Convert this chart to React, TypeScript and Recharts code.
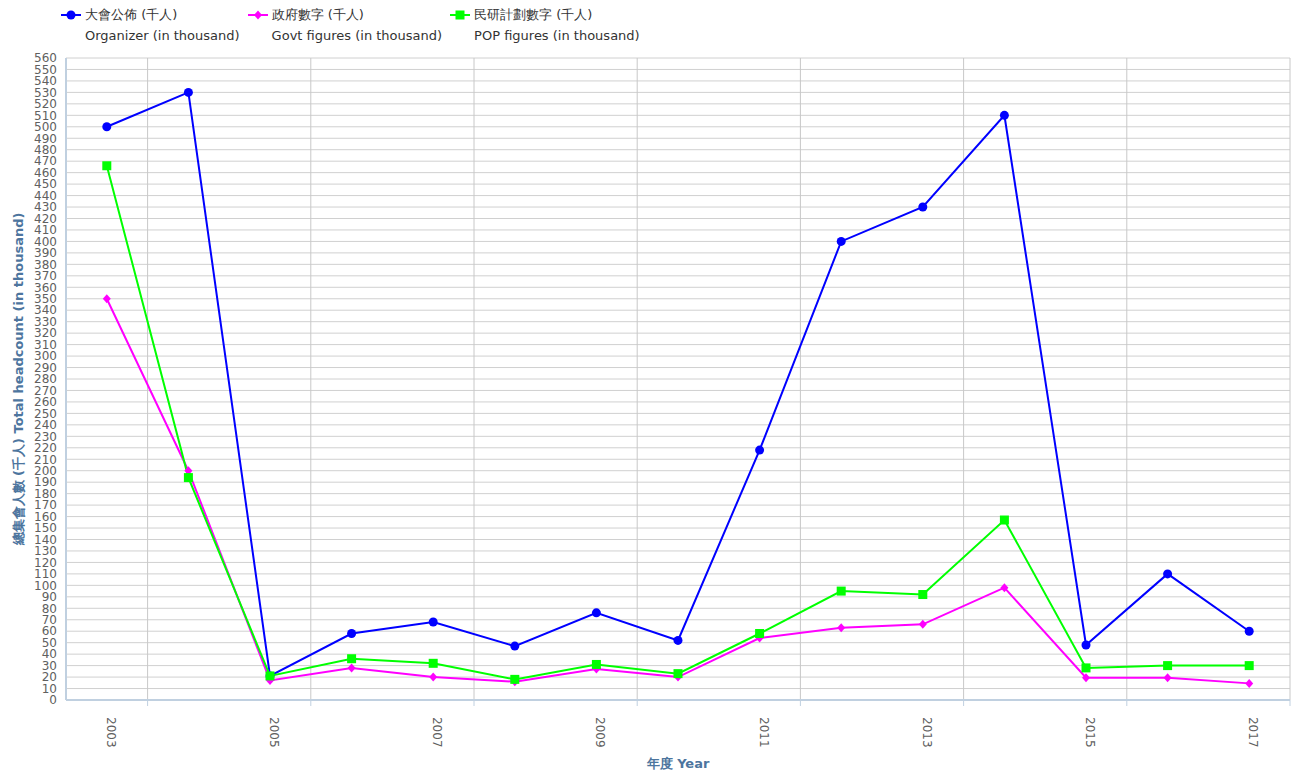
import { LineChart, Line, XAxis, YAxis, CartesianGrid, Label } from "recharts";

// Years on the x axis
const years = [
  "2003", "2004", "2005", "2006", "2007", "2008", "2009", "2010",
  "2011", "2012", "2013", "2014", "2015", "2016", "2017",
];

// Headcounts in thousands
const organizer = [500, 530, 21, 58, 68, 47, 76, 52, 218, 400, 430, 510, 48, 110, 60];
const govt = [350, 200, 17, 28, 20, 16, 27, 20, 54, 63, 66, 98, 19.5, 19.5, 14.5];
const pop = [466, 194, 21, 36, 32, 18, 31, 23, 58, 95, 92, 157, 28, 30, 30];

// y ticks every 10
const yTicks = Array.from({ length: 57 }, (_, i) => i * 10);

const seriesList = [
  { key: "organizer", zh: "大會公佈 (千人)", en: "Organizer (in thousand)", color: "#0000ff", shape: "circle" },
  { key: "govt", zh: "政府數字 (千人)", en: "Govt figures (in thousand)", color: "#ff00ff", shape: "diamond" },
  { key: "pop", zh: "民研計劃數字 (千人)", en: "POP figures (in thousand)", color: "#00ff00", shape: "square" },
];

const data = years.map((year, i) => ({
  year,
  organizer: organizer[i],
  govt: govt[i],
  pop: pop[i],
}));

const FONT = "'DejaVu Sans', sans-serif";
const CHART_W = 1293;
const CHART_H = 775;
const Y_AXIS_W = 66;
const RIGHT = 3;
const PLOT_W = CHART_W - Y_AXIS_W - RIGHT;
const BAND = PLOT_W / years.length;

const Marker = ({ shape, color, cx, cy }) => {
  if (shape === "circle") return <circle cx={cx} cy={cy} r={4.5} fill={color} />;
  if (shape === "diamond")
    return (
      <polygon
        points={`${cx},${cy - 4.5} ${cx + 4},${cy} ${cx},${cy + 4.5} ${cx - 4},${cy}`}
        fill={color}
      />
    );
  return <rect x={cx - 4.5} y={cy - 4.5} width={9} height={9} fill={color} />;
};

const makeDot = (shape, color) => (props) => {
  const { cx, cy, index } = props;
  if (cx == null || cy == null) return <g key={`d-${index}`} />;
  return (
    <g key={`d-${index}`}>
      <Marker shape={shape} color={color} cx={cx} cy={cy} />
    </g>
  );
};

// rotated year labels, tick mark sits on the band boundary to the right
const XTick = ({ x, y, payload }) => (
  <g>
    <line x1={x + BAND / 2} x2={x + BAND / 2} y1={y} y2={y + 6} stroke="#c0d0e0" strokeWidth={1} />
    <text
      x={x}
      y={y + 17}
      transform={`rotate(90 ${x} ${y + 17})`}
      textAnchor="start"
      fontSize={12}
      fontFamily={FONT}
      fill="#606060"
    >
      {payload.value}
    </text>
  </g>
);

const LegendBox = () => (
  <div
    style={{
      position: "absolute",
      top: 4,
      left: 61,
      display: "flex",
      gap: 8,
      fontFamily: FONT,
      fontSize: 13,
      lineHeight: "21px",
      color: "#333333",
    }}
  >
    {seriesList.map((s) => (
      <div key={s.key} style={{ display: "flex", alignItems: "flex-start" }}>
        <svg width={20} height={21} style={{ display: "block" }}>
          <line x1={0} x2={20} y1={11} y2={11} stroke={s.color} strokeWidth={2} />
          <Marker shape={s.shape} color={s.color} cx={10} cy={11} />
        </svg>
        <div style={{ marginLeft: 4, whiteSpace: "nowrap" }}>
          <div>{s.zh}</div>
          <div>{s.en}</div>
        </div>
      </div>
    ))}
  </div>
);

export default function App() {
  return (
    <div style={{ position: "relative", width: CHART_W, height: CHART_H }}>
      <style>{"body{margin:0}"}</style>
      <LineChart
        width={CHART_W}
        height={CHART_H}
        data={data}
        margin={{ top: 58, right: RIGHT, left: 0, bottom: 0 }}
      >
        <CartesianGrid vertical={false} stroke="#d0d0d0" strokeWidth={1} />
        <CartesianGrid
          horizontal={false}
          stroke="#c8c8c8"
          strokeWidth={1}
          verticalCoordinatesGenerator={({ offset }) =>
            years
              .filter((_, i) => i % 2 === 0)
              .map((_, k) => offset.left + (offset.width * (2 * k + 1)) / years.length)
          }
        />
        <XAxis
          dataKey="year"
          interval={1}
          height={75}
          padding={{ left: BAND / 2, right: BAND / 2 }}
          tickLine={false}
          tickSize={0}
          tickMargin={0}
          axisLine={{ stroke: "#c0d0e0", strokeWidth: 2 }}
          tick={<XTick />}
        >
          <Label
            content={({ viewBox }) => (
              <text
                x={viewBox.x + viewBox.width / 2}
                y={viewBox.y + 63}
                textAnchor="middle"
                dominantBaseline="central"
                fontSize={13}
                fontWeight="bold"
                fontFamily={FONT}
                fill="#4d759e"
              >
                年度 Year
              </text>
            )}
          />
        </XAxis>
        <YAxis
          width={Y_AXIS_W}
          domain={[0, 560]}
          ticks={yTicks}
          interval={0}
          tickLine={false}
          tickSize={0}
          tickMargin={9}
          axisLine={{ stroke: "#c0d0e0", strokeWidth: 2 }}
          tick={{ fontSize: 12, fontFamily: FONT, fill: "#606060" }}
        >
          <Label
            content={({ viewBox }) => {
              const cx = viewBox.x + 18;
              const cy = viewBox.y + viewBox.height / 2;
              return (
                <text
                  x={cx}
                  y={cy}
                  transform={`rotate(-90 ${cx} ${cy})`}
                  textAnchor="middle"
                  dominantBaseline="central"
                  fontSize={13}
                  fontWeight="bold"
                  fontFamily={FONT}
                  fill="#4d759e"
                >
                  總集會人數 (千人) Total headcount (in thousand)
                </text>
              );
            }}
          />
        </YAxis>
        {seriesList.map((s) => (
          <Line
            key={s.key}
            type="linear"
            dataKey={s.key}
            stroke={s.color}
            strokeWidth={2}
            dot={makeDot(s.shape, s.color)}
            activeDot={false}
            isAnimationActive={false}
          />
        ))}
      </LineChart>
      <LegendBox />
    </div>
  );
}
